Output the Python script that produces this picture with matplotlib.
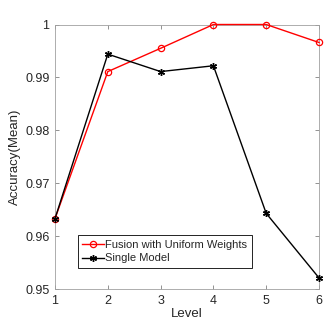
import numpy as np
import matplotlib.pyplot as plt

plt.rcParams['font.family'] = ['Liberation Sans', 'DejaVu Sans']

levels = [1, 2, 3, 4, 5, 6]
fusion = [0.9633, 0.9911, 0.9955, 1.0, 1.0, 0.9966]
single = [0.9633, 0.9944, 0.9911, 0.9922, 0.9643, 0.9521]

gray = '#262626'

fig = plt.figure(figsize=(3.32, 3.27), dpi=100)
ax = fig.add_axes([55/332, 1 - 289/327, 264/332, 264.5/327])

ax.plot(levels, fusion, color='red', marker='o', markersize=4.5, markerfacecolor='none',
        markeredgewidth=0.9, linewidth=1.0, label='Fusion with Uniform Weights', clip_on=False, zorder=3)
ax.plot(levels, single, color='black', marker=(6, 2, 0), markersize=5,
        markeredgewidth=1.0, linewidth=1.0, label='Single Model', clip_on=False, zorder=4)

ax.set_xlim(1, 6)
ax.set_ylim(0.95, 1.0)
ax.set_xticks(levels)
ax.set_yticks([0.95, 0.96, 0.97, 0.98, 0.99, 1.0])
ax.set_yticklabels(['0.95', '0.96', '0.97', '0.98', '0.99', '1'])

ax.tick_params(direction='in', top=True, right=True, length=3, width=0.6,
               color='#808080', labelsize=9, labelcolor=gray, pad=4)
for s in ax.spines.values():
    s.set_color('#a0a0a0')
    s.set_linewidth(0.6)

ax.set_xlabel('Level', fontsize=9.5, color=gray, labelpad=1)
ax.set_ylabel('Accuracy(Mean)', fontsize=9.5, color=gray, labelpad=3)

leg = ax.legend(loc='lower left', bbox_to_anchor=(0.087, 0.08), fontsize=8,
                frameon=True, fancybox=False, edgecolor='black', framealpha=1,
                handlelength=1.9, handletextpad=0.15, borderpad=0.4, labelspacing=0.35,
                borderaxespad=0)
leg.get_frame().set_linewidth(0.6)
for t in leg.get_texts():
    t.set_color(gray)

fig.savefig('out.png', dpi=100)
